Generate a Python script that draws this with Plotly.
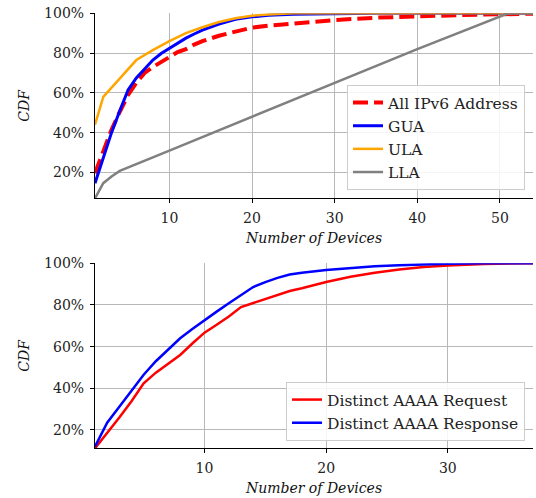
import plotly.graph_objects as go

# ---------------- data (top panel) ----------------
all_x = [1, 2, 3, 4, 5, 6, 7, 8, 9, 10, 11, 12, 13, 14, 16, 18, 20, 22, 26, 30, 35, 40, 45, 50, 54]
all_y = [19.6, 31, 41.5, 50.5, 59, 65, 70, 73, 75.5, 78, 80.5, 82, 84.3, 86, 88.7, 90.8, 92.8, 93.8, 95.3, 96.6, 97.8, 98.6, 99.1, 99.5, 99.8]

gua_x = [1, 2, 3, 4, 5, 6, 7, 8, 9, 10, 11, 12, 13, 14, 16, 18, 20, 22, 25, 30, 35, 54]
gua_y = [14.6, 27, 40, 51, 61.5, 67.5, 72, 76.5, 79.8, 82.5, 85, 87.5, 89.6, 91.5, 94.6, 97, 98.2, 99, 99.5, 99.8, 100, 100]

ula_x = [1, 2, 6, 8, 10, 11, 12, 14, 16, 18, 20, 22, 25, 54]
ula_y = [44, 58, 76.5, 81.5, 86, 88.2, 90, 93, 95.6, 97.5, 98.8, 99.4, 100, 100]

lla_x = [1, 2, 3, 4, 10, 20, 30, 40, 51, 54]
lla_y = [7, 14.6, 18, 20.8, 31, 48, 65, 82, 100, 100]

# ---------------- data (bottom panel) ----------------
req_x = [1, 2, 3, 4, 5, 6, 7, 8, 9, 10, 11, 12, 13, 14, 15, 16, 17, 18, 20, 22, 24, 26, 28, 30, 33, 37]
req_y = [11.2, 18.5, 26, 33.8, 42.4, 47.5, 51.8, 56, 61.5, 66.7, 70.5, 74.5, 79, 81, 83, 85, 86.7, 88, 91, 93.5, 95.5, 97, 98.2, 99, 99.7, 100]

resp_x = [1, 2, 3, 4, 5, 6, 7, 8, 9, 10, 11, 12, 13, 14, 15, 16, 17, 18, 20, 22, 24, 26, 28, 30, 33, 37]
resp_y = [12, 23.5, 31.2, 38.8, 46.5, 53, 58.7, 64, 68.5, 72.8, 76.8, 80.8, 84.8, 88.6, 91, 93, 94.6, 95.5, 96.8, 97.8, 98.6, 99.1, 99.5, 99.8, 100, 100]

top_xticks = [10, 20, 30, 40, 50]
bot_xticks = [10, 20, 30]
yticks = [20, 40, 60, 80, 100]
ytick_labels = ["20%", "40%", "60%", "80%", "100%"]

FONT = "DejaVu Serif"
RED, BLUE, ORANGE, GRAY = "#ff0000", "#0000ff", "#ffa500", "#808080"

fig = go.Figure()
fig.add_trace(go.Scatter(x=all_x, y=all_y, mode="lines", name="All IPv6 Address",
                         line=dict(color=RED, width=4, dash="15px,6px"), xaxis="x", yaxis="y", legend="legend"))
fig.add_trace(go.Scatter(x=gua_x, y=gua_y, mode="lines", name="GUA",
                         line=dict(color=BLUE, width=3), xaxis="x", yaxis="y", legend="legend"))
fig.add_trace(go.Scatter(x=ula_x, y=ula_y, mode="lines", name="ULA",
                         line=dict(color=ORANGE, width=2.5), xaxis="x", yaxis="y", legend="legend"))
fig.add_trace(go.Scatter(x=lla_x, y=lla_y, mode="lines", name="LLA",
                         line=dict(color=GRAY, width=2.5), xaxis="x", yaxis="y", legend="legend"))

fig.add_trace(go.Scatter(x=req_x, y=req_y, mode="lines", name="Distinct AAAA Request",
                         line=dict(color=RED, width=2.5), xaxis="x2", yaxis="y2", legend="legend2"))
fig.add_trace(go.Scatter(x=resp_x, y=resp_y, mode="lines", name="Distinct AAAA Response",
                         line=dict(color=BLUE, width=2.5), xaxis="x2", yaxis="y2", legend="legend2"))

W, H = 536, 498
def xd(a, b):
    return [a / W, b / W]
def yd(top, bot):
    return [1 - bot / H, 1 - top / H]

axis_common = dict(showline=True, linecolor="black", linewidth=1.2, mirror=False,
                   showgrid=True, gridcolor="#b8b8b8", gridwidth=1,
                   ticks="outside", ticklen=4, tickwidth=1.2, tickcolor="black",
                   ticklabelstandoff=3,
                   tickfont=dict(family=FONT, size=14, color="#222222"),
                   zeroline=False)
title_font = dict(family=FONT, size=14, color="#111111", style="italic")

legend_common = dict(xanchor="right", yanchor="bottom",
                     bgcolor="rgba(255,255,255,0.85)", bordercolor="#cccccc", borderwidth=1,
                     font=dict(family=FONT, size=15.5, color="#222222"))

fig.update_layout(
    width=W, height=H,
    margin=dict(l=0, r=0, t=0, b=0, autoexpand=False),
    paper_bgcolor="white", plot_bgcolor="white",
    font=dict(family=FONT, size=14, color="#222222"),
    xaxis=dict(domain=xd(95, 533), anchor="y", range=[1, 54], tickmode="array", tickvals=top_xticks,
               title=dict(text="Number of Devices", font=title_font, standoff=7), **axis_common),
    yaxis=dict(domain=yd(13.3, 198.3), anchor="x", range=[7, 100], tickmode="array",
               tickvals=yticks, ticktext=ytick_labels,
               title=dict(text="CDF", font=title_font, standoff=11), **axis_common),
    xaxis2=dict(domain=xd(95, 533), anchor="y2", range=[1, 37], tickmode="array", tickvals=bot_xticks,
                title=dict(text="Number of Devices", font=title_font, standoff=7), **axis_common),
    yaxis2=dict(domain=yd(263.3, 448.3), anchor="x2", range=[11.2, 100], tickmode="array",
                tickvals=yticks, ticktext=ytick_labels,
                title=dict(text="CDF", font=title_font, standoff=11), **axis_common),
    legend=dict(x=525 / W, y=1 - 190 / H, **legend_common),
    legend2=dict(x=525 / W, y=1 - 441 / H, **legend_common),
)

fig.write_html("out.html", post_script="document.body.style.margin='0';",
               config={"displayModeBar": False})
